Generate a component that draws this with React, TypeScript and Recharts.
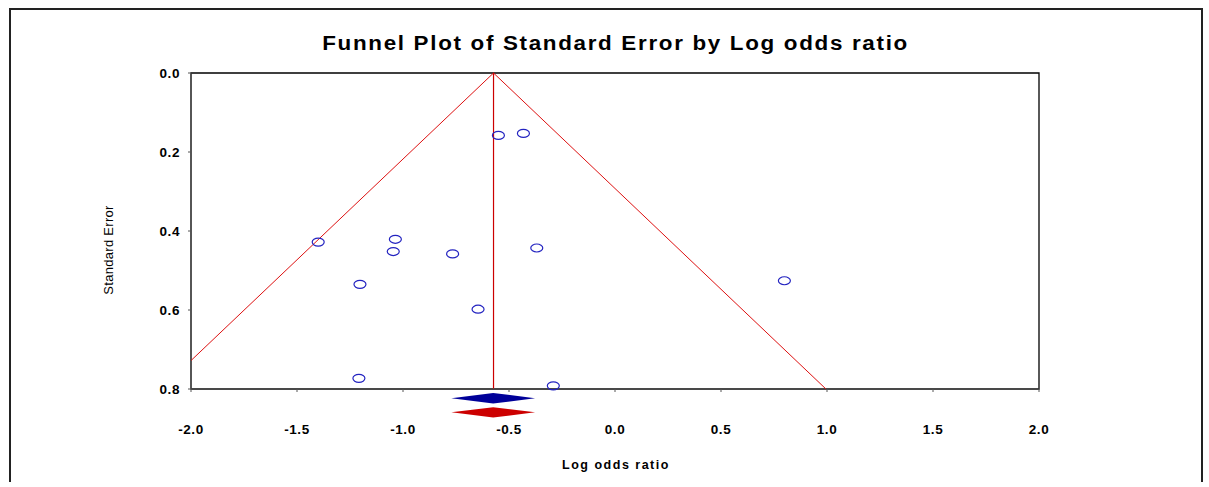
import React from "react"
import {
  ScatterChart,
  Scatter,
  XAxis,
  YAxis,
  ReferenceLine,
  ReferenceArea,
} from "recharts"

// study estimates (log odds ratio) and their standard errors
const studyLogOR = [-1.4, -1.036, -1.046, -0.766, -1.203, -0.55, -0.432, -0.369, -0.646, -1.208, -0.291, 0.799]
const studySE = [0.428, 0.421, 0.452, 0.458, 0.535, 0.158, 0.153, 0.443, 0.598, 0.773, 0.792, 0.526]

// pooled estimate and its confidence interval
const summaryEstimate = -0.573
const summaryLower = -0.772
const summaryUpper = -0.377

// funnel (95% pseudo confidence limits) outline
const funnelX = [-2.0, -0.573, 0.995]
const funnelSE = [0.728, 0, 0.8]

const xTicks = [-2.0, -1.5, -1.0, -0.5, 0.0, 0.5, 1.0, 1.5, 2.0]
const yTicks = [0.0, 0.2, 0.4, 0.6, 0.8]

const studies = studyLogOR.map((x, i) => ({ x, y: studySE[i] }))
const funnel = funnelX.map((x, i) => ({ x, y: funnelSE[i] }))

const font = "'Liberation Sans', Arial, sans-serif"

const Ellipse = (props: any) => {
  const { cx, cy } = props
  return <ellipse cx={cx} cy={cy} rx={6} ry={4} fill="none" stroke="#2323c0" strokeWidth={1.2} />
}

const Diamond = (color: string) => (props: any) => {
  const { x, y, width, height } = props
  const mid = y + height / 2
  const pts = `${x},${mid} ${x + width / 2},${y} ${x + width},${mid} ${x + width / 2},${y + height}`
  return <polygon points={pts} fill={color} stroke="none" />
}

const tickStyle = { fontFamily: font, fontWeight: 700, fontSize: 13.5, fill: "#000", letterSpacing: 0.6 }

export default function App() {
  return (
    <div style={{ position: "absolute", left: 0, top: 0, width: 1209, height: 487, background: "#fff" }}>
      <div
        style={{
          position: "absolute",
          left: 9,
          top: 8,
          width: 1190,
          height: 472,
          borderTop: "2px solid #222",
          borderLeft: "2px solid #222",
          borderRight: "2px solid #222",
        }}
      />
      <div
        style={{
          position: "absolute",
          left: 0,
          width: 1231,
          top: 32,
          textAlign: "center",
          fontFamily: font,
          fontWeight: 700,
          fontSize: 20,
          letterSpacing: 1.5,
          color: "#000",
          transform: "scaleX(1.12)",
          transformOrigin: "615px 0",
        }}
      >
        Funnel Plot of Standard Error by Log odds ratio
      </div>
      <div
        style={{
          position: "absolute",
          left: 0,
          width: 1232,
          top: 458,
          textAlign: "center",
          fontFamily: font,
          fontWeight: 700,
          fontSize: 12.5,
          letterSpacing: 1.5,
          color: "#000",
        }}
      >
        Log odds ratio
      </div>
      <div
        style={{
          position: "absolute",
          left: 108,
          top: 250,
          transform: "translate(-50%, -50%) rotate(-90deg)",
          whiteSpace: "nowrap",
          fontFamily: font,
          fontSize: 13,
          letterSpacing: 0.3,
          color: "#000",
        }}
      >
        Standard Error
      </div>
      <div style={{ position: "absolute", left: 0, top: 0 }}>
        <ScatterChart width={1209} height={487} margin={{ top: 73, right: 170, bottom: 38, left: 131 }}>
          <ReferenceArea
            x1={-2}
            x2={2}
            y1={0}
            y2={0.8}
            fill="none"
            fillOpacity={0}
            stroke="#000"
            strokeWidth={1.3}
          />
          <XAxis
            type="number"
            dataKey="x"
            domain={[-2, 2]}
            ticks={xTicks}
            tickFormatter={(v: number) => v.toFixed(1)}
            tick={tickStyle}
            tickSize={3}
            tickMargin={32}
            height={60}
            stroke="#555"
            allowDataOverflow
          />
          <YAxis
            type="number"
            dataKey="y"
            domain={[0, 0.8]}
            reversed
            ticks={yTicks}
            tickFormatter={(v: number) => v.toFixed(1)}
            tick={tickStyle}
            tickSize={3}
            tickMargin={8}
            width={60}
            stroke="#555"
          />
          <ReferenceLine x={summaryEstimate} stroke="#cc0000" strokeWidth={1.2} />
          <Scatter
            data={funnel}
            line={{ stroke: "#dd1111", strokeWidth: 1 }}
            lineType="joint"
            shape={() => <g />}
            isAnimationActive={false}
          />
          <Scatter data={studies} shape={Ellipse} isAnimationActive={false} />
          <ReferenceArea
            x1={summaryLower}
            x2={summaryUpper}
            y1={0.81}
            y2={0.837}
            ifOverflow="visible"
            shape={Diamond("#000099")}
          />
          <ReferenceArea
            x1={summaryLower}
            x2={summaryUpper}
            y1={0.846}
            y2={0.872}
            ifOverflow="visible"
            shape={Diamond("#cc0000")}
          />
        </ScatterChart>
      </div>
    </div>
  )
}
